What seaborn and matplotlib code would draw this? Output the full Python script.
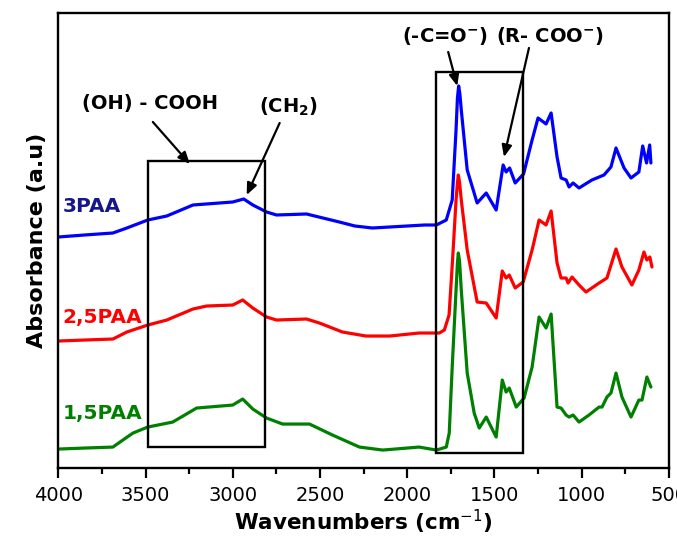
import numpy as np
import pandas as pd
import matplotlib
matplotlib.use("Agg")
import matplotlib.pyplot as plt
from matplotlib.patches import Rectangle
from matplotlib.ticker import MultipleLocator
import seaborn as sns

# ---------------- data ----------------
wn_3paa = [4000, 3850, 3687, 3607, 3487, 3378, 3228, 3000, 2937, 2885, 2806, 2749,
           2577, 2389, 2300, 2200, 2000, 1900, 1833, 1776, 1742, 1720, 1712, 1705,
           1698, 1690, 1656, 1599, 1547, 1490, 1450, 1433, 1413, 1381, 1333, 1284,
           1250, 1204, 1175, 1141, 1118, 1089, 1072, 1049, 1015, 941, 872, 832,
           803, 757, 717, 672, 650, 628, 610, 603]
ab_3paa = [2.31, 2.33, 2.35, 2.40, 2.48, 2.52, 2.63, 2.66, 2.69, 2.63, 2.56, 2.53,
           2.54, 2.46, 2.42, 2.40, 2.42, 2.43, 2.43, 2.48, 2.68, 3.38, 3.70, 3.82,
           3.74, 3.58, 2.98, 2.65, 2.75, 2.58, 3.03, 2.96, 3.00, 2.85, 2.94, 3.28,
           3.50, 3.44, 3.55, 3.11, 2.90, 2.88, 2.81, 2.85, 2.80, 2.88, 2.93, 3.01,
           3.20, 3.00, 2.90, 2.96, 3.22, 3.05, 3.23, 3.05]

wn_25paa = [4000, 3850, 3687, 3607, 3487, 3378, 3228, 3150, 3000, 2943, 2885, 2806,
            2749, 2577, 2503, 2371, 2236, 2100, 1932, 1816, 1787, 1760, 1740, 1720,
            1712, 1707, 1700, 1690, 1656, 1599, 1547, 1490, 1455, 1433, 1415, 1381,
            1335, 1284, 1244, 1204, 1175, 1141, 1118, 1089, 1078, 1055, 1015, 975,
            900, 855, 803, 769, 712, 672, 643, 626, 609, 597]
ab_25paa = [1.27, 1.28, 1.29, 1.36, 1.43, 1.48, 1.59, 1.62, 1.63, 1.68, 1.60, 1.51,
            1.48, 1.49, 1.45, 1.36, 1.32, 1.32, 1.35, 1.35, 1.38, 1.53, 2.08, 2.68,
            2.85, 2.93, 2.86, 2.68, 2.18, 1.66, 1.65, 1.50, 1.97, 1.90, 1.93, 1.80,
            1.86, 2.18, 2.48, 2.43, 2.57, 2.05, 1.90, 1.90, 1.85, 1.91, 1.83, 1.76,
            1.85, 1.90, 2.19, 2.01, 1.83, 1.98, 2.16, 2.08, 2.11, 2.01]

wn_15paa = [4000, 3850, 3687, 3630, 3572, 3487, 3344, 3207, 3000, 2943, 2885, 2806,
            2714, 2560, 2428, 2274, 2140, 1932, 1833, 1776, 1759, 1742, 1720, 1712,
            1707, 1700, 1690, 1656, 1616, 1587, 1547, 1490, 1455, 1433, 1415, 1375,
            1330, 1284, 1244, 1204, 1175, 1141, 1118, 1089, 1072, 1049, 1015, 958,
            900, 883, 855, 832, 803, 769, 717, 672, 654, 626, 603]
ab_15paa = [0.19, 0.20, 0.21, 0.28, 0.35, 0.41, 0.46, 0.60, 0.63, 0.69, 0.59, 0.50,
            0.44, 0.44, 0.33, 0.21, 0.18, 0.21, 0.18, 0.21, 0.35, 1.01, 1.78, 2.05,
            2.15, 2.07, 1.78, 0.95, 0.55, 0.40, 0.51, 0.31, 0.88, 0.76, 0.80, 0.61,
            0.70, 1.01, 1.51, 1.40, 1.54, 0.61, 0.60, 0.53, 0.51, 0.53, 0.46, 0.53,
            0.61, 0.61, 0.71, 0.75, 0.95, 0.71, 0.51, 0.68, 0.68, 0.91, 0.81]

series_names = ["3PAA", "2,5PAA", "1,5PAA"]
line_colors = ["#0000FF", "#FF0000", "#008000"]
label_colors = ["#16168C", "#FF0000", "#008000"]

x_ticks = [4000, 3500, 3000, 2500, 2000, 1500, 1000, 500]

# ---------------- build long-form table ----------------
frames = []
for name, wn, ab in zip(series_names,
                        [wn_3paa, wn_25paa, wn_15paa],
                        [ab_3paa, ab_25paa, ab_15paa]):
    frames.append(pd.DataFrame({"wn": wn, "ab": ab, "sample": name}))
df = pd.concat(frames, ignore_index=True)

# ---------------- plot ----------------
sns.set_style("white")
plt.rcParams["font.family"] = ["DejaVu Sans"]
plt.rcParams["text.color"] = "black"
plt.rcParams["axes.labelcolor"] = "black"
plt.rcParams["xtick.color"] = "black"
plt.rcParams["ytick.color"] = "black"
plt.rcParams["axes.edgecolor"] = "black"

fig = plt.figure(figsize=(6.77, 5.38), dpi=100)
ax = fig.add_axes([0.0861, 0.130, 0.9019, 0.845])

sns.lineplot(data=df, x="wn", y="ab", hue="sample", hue_order=series_names,
             palette=dict(zip(series_names, line_colors)), sort=False,
             estimator=None, linewidth=2.3, legend=False, ax=ax)

ax.set_xlim(4000, 500)
ax.set_ylim(0, 4.545)
ax.set_xticks(x_ticks)
ax.xaxis.set_minor_locator(MultipleLocator(250))
ax.set_yticks([])
ax.tick_params(axis="x", which="major", direction="out", length=7, width=1.6,
               labelsize=14, pad=6, bottom=True, top=False, colors="black")
ax.tick_params(axis="x", which="minor", direction="out", length=4, width=1.6,
               bottom=True, top=False, colors="black")
for sp in ax.spines.values():
    sp.set_visible(True)
    sp.set_color("black")
    sp.set_linewidth(1.7)

ax.set_xlabel("Wavenumbers (cm$^{-1}$)", fontsize=15.5, fontweight="bold",
              labelpad=2, color="black")
ax.set_ylabel("Absorbance (a.u)", fontsize=16, fontweight="bold", labelpad=8,
              color="black")

# sample labels
label_y = [2.61, 1.51, 0.55]
for name, c, yy in zip(series_names, label_colors, label_y):
    ax.text(3975, yy, name, color=c, fontsize=14.5, fontweight="bold",
            ha="left", va="center")

# boxes
ax.add_patch(Rectangle((3486, 0.21), 2817 - 3486, 3.07 - 0.21, fill=False,
                       edgecolor="black", linewidth=1.7, zorder=5))
ax.add_patch(Rectangle((1833, 0.15), 1335 - 1833, 3.96 - 0.15, fill=False,
                       edgecolor="black", linewidth=1.7, zorder=5))

# annotations
tkw = dict(fontsize=14, fontweight="bold", ha="center", va="center", color="black")
ax.text(3475, 3.64, "(OH) - COOH", **tkw)
ax.text(2680, 3.61, "(CH$_\\mathbf{2}$)", **tkw)
ax.text(1787, 4.32, "(-C=O$^{\\mathbf{-}}$)", **tkw)
ax.text(1181, 4.32, "(R- COO$^{\\mathbf{-}}$)", **tkw)

akw = dict(arrowstyle="-|>,head_length=0.7,head_width=0.3", color="black",
           lw=1.6, shrinkA=0, shrinkB=0)
ax.annotate("", xy=(3246, 3.04), xytext=(3458, 3.46), arrowprops=akw)
ax.annotate("", xy=(2920, 2.73), xytext=(2731, 3.45), arrowprops=akw)
ax.annotate("", xy=(1713, 3.82), xytext=(1765, 4.16), arrowprops=akw)
ax.annotate("", xy=(1445, 3.11), xytext=(1302, 4.20), arrowprops=akw)

fig.savefig("out.png", dpi=100)
